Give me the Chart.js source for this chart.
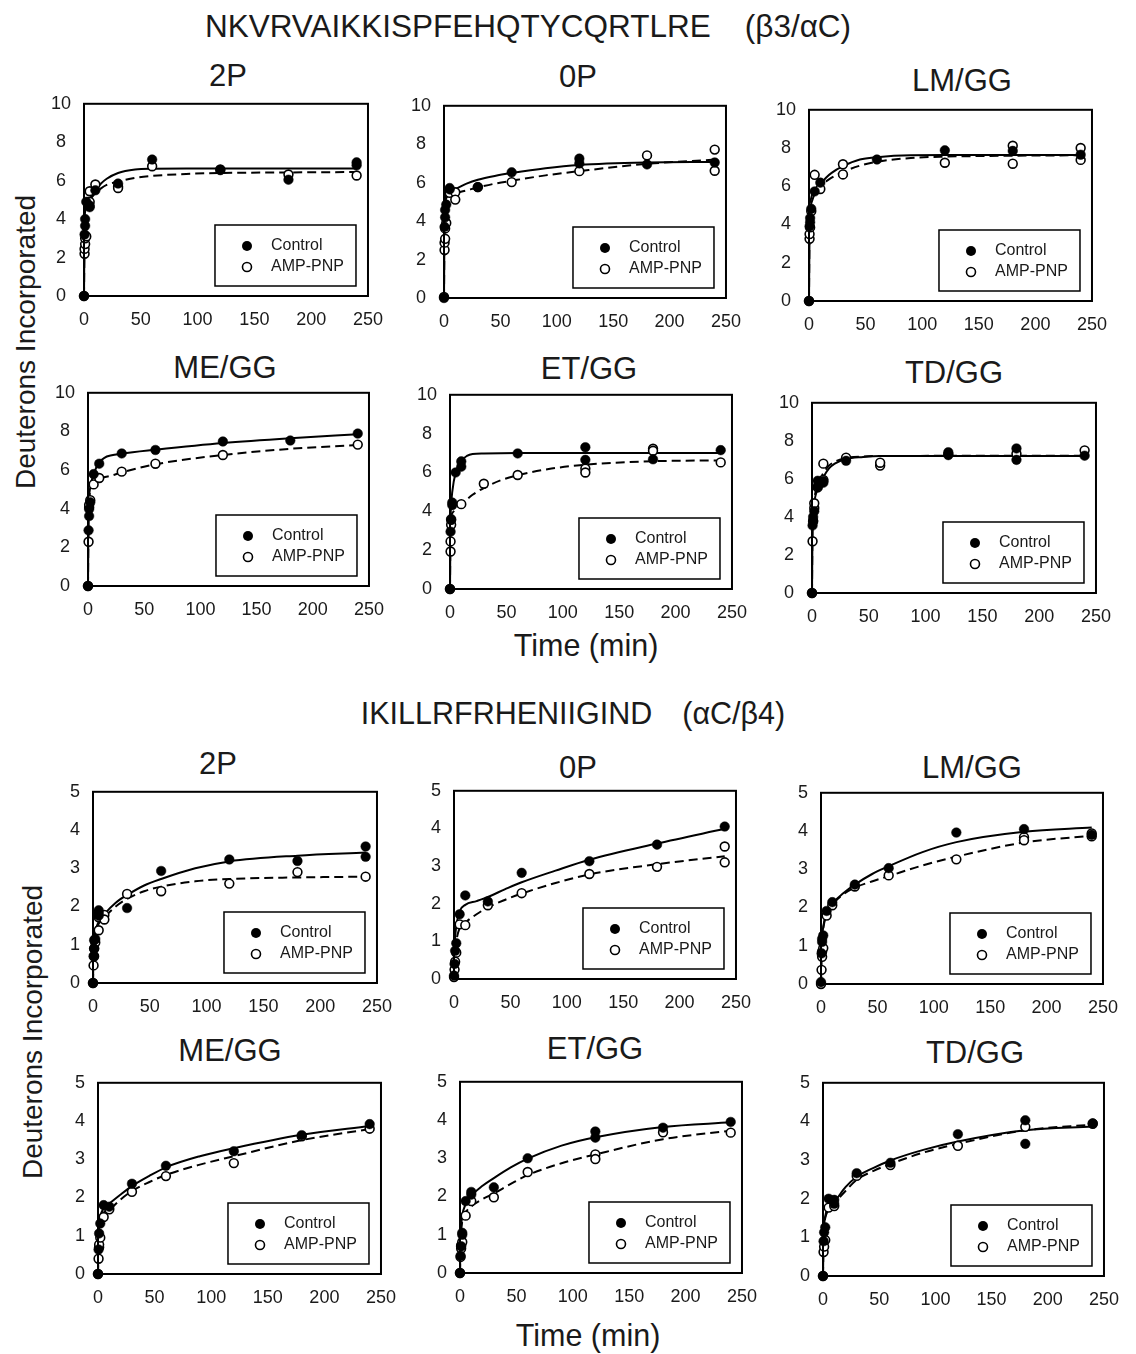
<!DOCTYPE html>
<html><head><meta charset="utf-8">
<script src="https://cdn.jsdelivr.net/npm/chart.js@4.4.1/dist/chart.umd.min.js"></script>
<style>
body{margin:0;background:#fff;}
#wrap{position:relative;width:1136px;height:1354px;overflow:hidden;font-family:"Liberation Sans",Arial,sans-serif;color:#1a1a1a;}
.lbl{position:absolute;white-space:nowrap;transform:translate(-50%,-50%);line-height:1;}
.rot{transform:translate(-50%,-50%) rotate(-90deg);}
canvas{position:absolute;}
</style></head><body><div id="wrap"></div>
<script>
// ---------------- DATA ----------------
const ticksX = [0, 50, 100, 150, 200, 250];
const ticksYTop = [0, 2, 4, 6, 8, 10];
const ticksYBottom = [0, 1, 2, 3, 4, 5];
const panelTitles = ['2P', '0P', 'LM/GG', 'ME/GG', 'ET/GG', 'TD/GG'];
const seriesNames = ['Control', 'AMP-PNP'];
const headingTop = ['NKVRVAIKKISPFEHQTYCQRTLRE', '(\u03b23/\u03b1C)'];
const headingBottom = ['IKILLRFRHENIIGIND', '(\u03b1C/\u03b24)'];
const yTitle = 'Deuterons Incorporated';
const xTitle = 'Time (min)';

// top group (β3/αC): [time, deuterons]
const t2P_ctrl = [[0,0],[0.5,3.2],[1,3.65],[1,4.0],[2,4.9],[5,4.62],[5,4.7],[10,5.5],[30,5.85],[60,7.1],[120,6.55],[180,6.05],[240,6.95],[240,6.8]];
const t2P_amp  = [[0,0],[0.5,2.2],[0.5,2.45],[1,2.7],[1,3.0],[2,3.1],[5,5.45],[5,4.9],[10,5.8],[30,5.7],[30,5.62],[60,6.75],[120,6.58],[180,6.32],[240,6.27]];
const t2P_fitC = [[0,0],[0.5,3.5],[1,4.5],[2,4.85],[5,5.05],[10,5.5],[15,5.85],[20,6.1],[30,6.4],[45,6.58],[60,6.62],[90,6.63],[120,6.63],[240,6.63]];
const t2P_fitA = [[0,0],[0.5,3.3],[1,4.3],[2,4.75],[5,5.0],[10,5.35],[15,5.6],[20,5.78],[30,5.95],[45,6.15],[60,6.25],[90,6.35],[120,6.4],[180,6.43],[240,6.45]];

const t0P_ctrl = [[0,0],[0.5,3.7],[1,4.2],[1,4.58],[2,4.86],[5,5.72],[5,5.65],[30,5.77],[60,6.54],[120,7.25],[120,7.0],[180,6.95],[240,7.05]];
const t0P_amp  = [[0,0.05],[0.5,2.5],[0.5,2.88],[1,3.08],[1,3.62],[2,3.9],[5,5.47],[10,5.5],[10,5.12],[30,5.77],[60,6.03],[120,6.6],[180,7.42],[240,7.72],[240,6.62]];
const t0P_fitC = [[0,0],[0.5,4.2],[1,5.0],[2,5.45],[5,5.6],[10,5.68],[20,5.95],[30,6.15],[45,6.35],[60,6.5],[90,6.75],[120,6.92],[180,7.05],[240,7.08]];
const t0P_fitA = [[0,0],[0.5,4.0],[1,4.8],[2,5.2],[5,5.35],[10,5.45],[20,5.6],[30,5.75],[45,5.95],[60,6.1],[90,6.38],[120,6.6],[180,6.98],[240,7.2]];

const tLM_ctrl = [[0,0],[0.5,3.9],[1,4.12],[1,4.34],[2,4.82],[5,5.73],[10,6.19],[60,7.4],[120,7.88],[180,7.85],[240,7.65]];
const tLM_amp  = [[0,0],[0.5,3.25],[0.5,3.5],[1,3.85],[2,4.7],[5,6.6],[10,5.86],[30,7.15],[30,6.62],[120,7.23],[180,8.12],[180,7.18],[240,8.0],[240,7.38]];
const tLM_fitC = [[0,0],[0.5,3.8],[1,4.8],[2,5.1],[5,5.6],[10,6.1],[15,6.45],[20,6.7],[30,7.05],[45,7.4],[60,7.52],[90,7.62],[120,7.63],[240,7.63]];
const tLM_fitA = [[0,0],[0.5,4.2],[1,5.0],[2,5.4],[5,5.8],[10,6.05],[15,6.25],[20,6.45],[30,6.75],[45,7.08],[60,7.28],[90,7.48],[120,7.55],[180,7.6],[240,7.62]];

const tME_ctrl = [[0,0],[0.5,2.88],[1,3.62],[1,3.98],[2,4.33],[5,5.79],[10,6.33],[30,6.86],[60,7.04],[120,7.48],[180,7.53],[240,7.89]];
const tME_amp  = [[0,0],[0.5,2.29],[1,4.08],[1,4.2],[2,4.44],[5,5.26],[10,5.59],[30,5.92],[60,6.33],[120,6.78],[240,7.32]];
const tME_fitC = [[0,0],[0.5,3.8],[1,4.6],[2,5.1],[5,5.8],[10,6.4],[15,6.65],[20,6.75],[30,6.85],[60,7.05],[120,7.4],[180,7.65],[240,7.85]];
const tME_fitA = [[0,0],[0.5,3.8],[1,4.5],[2,4.9],[5,5.35],[10,5.55],[20,5.7],[30,5.88],[60,6.3],[120,6.78],[180,7.1],[240,7.3]];

const tET_ctrl = [[0,0],[0.5,2.95],[1,3.6],[2,4.32],[2,4.45],[5,6.0],[10,6.57],[10,6.3],[60,6.98],[120,7.3],[120,6.65],[180,6.68],[240,7.15]];
const tET_amp  = [[0,0],[0.5,1.93],[0.5,2.45],[1,3.31],[1,3.56],[10,4.37],[30,5.42],[60,5.87],[120,6.2],[120,6.0],[180,7.22],[180,7.12],[240,6.52]];
const tET_fitC = [[0,0],[0.5,3.5],[1,4.3],[2,5.0],[5,6.0],[10,6.6],[15,6.85],[20,6.95],[30,6.98],[60,7.0],[240,7.0]];
const tET_fitA = [[0,0],[0.5,3.6],[1,3.8],[2,3.9],[5,4.1],[10,4.35],[20,4.85],[30,5.2],[45,5.6],[60,5.86],[90,6.2],[120,6.4],[180,6.58],[240,6.62]];

const tTD_ctrl = [[0,0],[0.5,3.55],[1,3.75],[1,4.0],[2,4.3],[5,5.9],[5,5.6],[10,5.88],[10,5.8],[30,6.95],[120,7.4],[120,7.25],[180,7.6],[180,7.0],[240,7.22]];
const tTD_amp  = [[0,0],[0.5,2.72],[1,3.8],[2,4.47],[2,4.72],[5,5.55],[10,6.8],[10,5.95],[30,7.12],[60,6.7],[60,6.85],[120,7.3],[180,7.32],[240,7.5]];
const tTD_fitC = [[0,0],[0.5,3.6],[1,4.3],[2,4.8],[5,5.5],[10,6.1],[15,6.55],[20,6.8],[30,7.05],[45,7.15],[60,7.2],[240,7.2]];
const tTD_fitA = [[0,0],[0.5,4.0],[1,4.6],[2,5.0],[5,5.7],[10,6.3],[15,6.7],[20,6.9],[30,7.1],[45,7.18],[60,7.2],[240,7.22]];

// bottom group (αC/β4)
const b2P_ctrl = [[0,0],[0.5,0.7],[1,0.9],[1,1.12],[2,1.15],[5,1.9],[5,1.83],[5,1.76],[30,1.96],[60,2.93],[120,3.23],[180,3.19],[240,3.57],[240,3.3]];
const b2P_amp  = [[0,0],[0.5,0.46],[1,0.7],[1,0.9],[2,1.06],[5,1.38],[5,1.72],[10,1.78],[10,1.66],[30,2.33],[60,2.4],[120,2.6],[180,2.9],[240,2.78]];
const b2P_fitC = [[0,0],[0.5,0.9],[1,1.15],[2,1.35],[5,1.6],[10,1.8],[20,2.1],[30,2.3],[45,2.55],[60,2.72],[90,3.0],[120,3.18],[180,3.33],[240,3.41]];
const b2P_fitA = [[0,0],[0.5,0.9],[1,1.1],[2,1.3],[5,1.55],[10,1.72],[20,2.0],[30,2.2],[45,2.4],[60,2.52],[90,2.66],[120,2.72],[180,2.76],[240,2.78]];

const b0P_ctrl = [[0,0.09],[0.5,0.4],[1,0.75],[2,0.95],[5,1.72],[10,2.22],[30,2.06],[60,2.82],[120,3.13],[180,3.57],[240,4.05]];
const b0P_amp  = [[0,0.05],[0.5,0.25],[1,0.46],[2,0.7],[5,1.45],[10,1.43],[30,1.96],[60,2.28],[120,2.79],[180,2.98],[240,3.52],[240,3.1]];
const b0P_fitC = [[0,0],[0.5,0.8],[1,1.1],[2,1.4],[5,1.8],[10,1.97],[20,2.07],[30,2.18],[45,2.38],[60,2.57],[90,2.88],[120,3.17],[180,3.6],[240,3.99]];
const b0P_fitA = [[0,0],[0.5,0.5],[1,0.75],[2,1.0],[5,1.35],[10,1.5],[20,1.72],[30,1.9],[45,2.1],[60,2.27],[90,2.55],[120,2.78],[180,3.05],[240,3.26]];

const bLM_ctrl = [[0,0.05],[0.5,0.8],[1,1.1],[1,1.18],[2,1.27],[5,1.91],[10,2.14],[30,2.6],[60,3.03],[120,3.96],[180,4.05],[240,3.9]];
const bLM_amp  = [[0,0],[0.5,0.37],[1,0.71],[1,0.85],[2,0.94],[5,1.79],[10,2.06],[30,2.55],[60,2.84],[120,3.26],[180,3.84],[180,3.76],[240,3.86],[240,3.94]];
const bLM_fitC = [[0,0],[0.5,0.9],[1,1.2],[2,1.5],[5,1.85],[10,2.1],[20,2.38],[30,2.6],[45,2.87],[60,3.08],[90,3.45],[120,3.71],[180,3.98],[240,4.09]];
const bLM_fitA = [[0,0],[0.5,0.85],[1,1.15],[2,1.45],[5,1.82],[10,2.07],[20,2.35],[30,2.52],[45,2.68],[60,2.82],[90,3.1],[120,3.33],[180,3.7],[240,3.88]];

const bME_ctrl = [[0,0],[0.5,0.64],[1,1.06],[2,1.32],[5,1.8],[10,1.76],[30,2.36],[60,2.83],[120,3.21],[180,3.63],[240,3.92]];
const bME_amp  = [[0,0],[0.5,0.4],[1,0.7],[1,0.77],[2,0.95],[5,1.49],[10,1.69],[30,2.15],[60,2.56],[120,2.9],[180,3.6],[240,3.8]];
const bME_fitC = [[0,0],[0.5,1.0],[1,1.3],[2,1.5],[5,1.72],[10,1.84],[20,2.08],[30,2.3],[45,2.56],[60,2.79],[90,3.08],[120,3.29],[180,3.64],[240,3.87]];
const bME_fitA = [[0,0],[0.5,0.9],[1,1.2],[2,1.4],[5,1.6],[10,1.68],[20,1.95],[30,2.17],[45,2.4],[60,2.59],[90,2.86],[120,3.08],[180,3.5],[240,3.79]];

const bET_ctrl = [[0,0],[0.5,0.45],[1,0.7],[2,1.0],[2,1.05],[5,1.88],[10,2.12],[10,2.05],[30,2.24],[60,3.0],[120,3.7],[120,3.54],[180,3.8],[240,3.95]];
const bET_amp  = [[0,0],[0.5,0.42],[1,0.64],[1,0.72],[2,0.81],[5,1.5],[10,1.88],[30,1.98],[60,2.64],[120,3.1],[120,2.98],[180,3.68],[240,3.67]];
const bET_fitC = [[0,0],[0.5,0.9],[1,1.2],[2,1.5],[5,1.8],[10,2.02],[20,2.28],[30,2.48],[45,2.76],[60,2.99],[90,3.33],[120,3.55],[180,3.82],[240,3.94]];
const bET_fitA = [[0,0],[0.5,0.8],[1,1.1],[2,1.35],[5,1.58],[10,1.74],[20,1.93],[30,2.08],[45,2.33],[60,2.56],[90,2.87],[120,3.1],[180,3.5],[240,3.72]];

const bTD_ctrl = [[0,0],[0.5,0.9],[1,1.13],[2,1.26],[5,2.0],[10,1.97],[10,1.87],[30,2.66],[60,2.93],[120,3.67],[180,4.03],[180,3.42],[240,3.95]];
const bTD_amp  = [[0,0],[0.5,0.62],[1,0.76],[2,0.93],[5,1.77],[10,1.81],[30,2.59],[60,2.87],[120,3.37],[180,3.86],[240,3.94]];
const bTD_fitC = [[0,0],[0.5,1.0],[1,1.3],[2,1.55],[5,1.8],[10,1.92],[20,2.3],[30,2.57],[45,2.8],[60,2.99],[90,3.27],[120,3.48],[180,3.77],[240,3.87]];
const bTD_fitA = [[0,0],[0.5,1.0],[1,1.3],[2,1.5],[5,1.72],[10,1.88],[20,2.2],[30,2.49],[45,2.72],[60,2.9],[90,3.2],[120,3.42],[180,3.77],[240,3.92]];

// ---------------- LAYOUT ----------------
const FONT = '"Liberation Sans", Arial, sans-serif';
const TXT = '#1a1a1a';
// plot boxes [left, top, right, bottom] and title centres
const layoutPanels = [
  {box:[84,94,374,296],   title:[228,75]},
  {box:[444,96,732,298],  title:[578,76]},
  {box:[809,100,1098,301],title:[962,80]},
  {box:[88,383,375,586],  title:[225,367]},
  {box:[450,385,738,589], title:[589,368]},
  {box:[812,393,1102,593],title:[954,372]},
  {box:[93,782,383,983],  title:[218,763]},
  {box:[454,781,742,979], title:[578,767]},
  {box:[821,783,1109,984],title:[972,767]},
  {box:[98,1073,387,1274],title:[230,1050]},
  {box:[460,1072,748,1273],title:[595,1048]},
  {box:[823,1073,1110,1276],title:[975,1052]}
];
const panelData = [
  [t2P_ctrl,t2P_amp,t2P_fitC,t2P_fitA],[t0P_ctrl,t0P_amp,t0P_fitC,t0P_fitA],[tLM_ctrl,tLM_amp,tLM_fitC,tLM_fitA],
  [tME_ctrl,tME_amp,tME_fitC,tME_fitA],[tET_ctrl,tET_amp,tET_fitC,tET_fitA],[tTD_ctrl,tTD_amp,tTD_fitC,tTD_fitA],
  [b2P_ctrl,b2P_amp,b2P_fitC,b2P_fitA],[b0P_ctrl,b0P_amp,b0P_fitC,b0P_fitA],[bLM_ctrl,bLM_amp,bLM_fitC,bLM_fitA],
  [bME_ctrl,bME_amp,bME_fitC,bME_fitA],[bET_ctrl,bET_amp,bET_fitC,bET_fitA],[bTD_ctrl,bTD_amp,bTD_fitC,bTD_fitA]
];

const wrap = document.getElementById('wrap');
function addLabel(html, x, y, size, cls) {
  const d = document.createElement('div');
  d.className = 'lbl' + (cls ? ' ' + cls : '');
  d.style.left = x + 'px'; d.style.top = y + 'px'; d.style.fontSize = size + 'px';
  d.innerHTML = html;
  wrap.appendChild(d);
}
addLabel(headingTop[0] + '<span style="margin-left:34px">' + headingTop[1] + '</span>', 528, 27, 31.5);
addLabel(headingBottom[0] + '<span style="margin-left:30px">' + headingBottom[1] + '</span>', 573, 713, 30.5);
addLabel(yTitle, 26, 342, 28, 'rot');
addLabel(yTitle, 33, 1032, 28, 'rot');
addLabel(xTitle, 586, 645, 30.5);
addLabel(xTitle, 588, 1335, 30.5);

const framePlugin = {
  id: 'frameLegend',
  afterDatasetsDraw(chart) {
    const {ctx, chartArea: a} = chart;
    ctx.save();
    ctx.strokeStyle = '#000'; ctx.lineWidth = 2;
    ctx.strokeRect(a.left, a.top, a.right - a.left, a.bottom - a.top);
    // legend box
    const w = 141, h = 61;
    const lx = a.right - 12 - w, ly = a.bottom - 10 - h;
    ctx.fillStyle = '#fff';
    ctx.fillRect(lx, ly, w, h);
    ctx.lineWidth = 1.5;
    ctx.strokeRect(lx, ly, w, h);
    ctx.font = '16px ' + FONT;
    ctx.fillStyle = TXT; ctx.textBaseline = 'middle'; ctx.textAlign = 'left';
    ctx.fillText(seriesNames[0], lx + 56, ly + 21);
    ctx.fillText(seriesNames[1], lx + 56, ly + 42);
    ctx.beginPath(); ctx.arc(lx + 32, ly + 21, 5, 0, Math.PI * 2);
    ctx.fillStyle = '#000'; ctx.fill();
    ctx.beginPath(); ctx.arc(lx + 32, ly + 42, 4.5, 0, Math.PI * 2);
    ctx.fillStyle = '#fff'; ctx.fill(); ctx.lineWidth = 1.6; ctx.strokeStyle = '#000'; ctx.stroke();
    ctx.restore();
  }
};

const PADL = 60, PADT = 14, PADR = 22, PADB = 36;
layoutPanels.forEach((p, i) => {
  const [L, T, R, B] = p.box;
  const top = i < 6;
  const yTicks = top ? ticksYTop : ticksYBottom;
  const [ctrl, amp, fitC, fitA] = panelData[i];
  addLabel(panelTitles[i % 6], p.title[0], p.title[1], 31);
  const c = document.createElement('canvas');
  const W = (R - L) + PADL + PADR, H = (B - T) + PADT + PADB;
  c.width = W; c.height = H;
  c.style.width = W + 'px'; c.style.height = H + 'px';
  c.style.left = (L - PADL) + 'px'; c.style.top = (T - PADT) + 'px';
  wrap.appendChild(c);
  new Chart(c, {
    type: 'scatter',
    data: { datasets: [
      { data: ctrl, pointRadius: 4.8, pointBackgroundColor: '#000', pointBorderColor: '#000', pointBorderWidth: 0.5, showLine: false, clip: false },
      { data: amp, pointRadius: 4.4, pointBackgroundColor: '#fff', pointBorderColor: '#000', pointBorderWidth: 1.6, showLine: false, clip: false },
      { data: fitC, showLine: true, pointRadius: 0, borderColor: '#000', borderWidth: 2, cubicInterpolationMode: 'monotone', fill: false },
      { data: fitA, showLine: true, pointRadius: 0, borderColor: '#000', borderWidth: 2, borderDash: [9, 5], cubicInterpolationMode: 'monotone', fill: false }
    ]},
    options: {
      responsive: false, animation: false, devicePixelRatio: 1,
      layout: { padding: { left: 0, top: PADT, right: PADR, bottom: 0 } },
      plugins: { legend: { display: false }, tooltip: { enabled: false }, title: { display: false } },
      scales: {
        x: {
          type: 'linear', min: 0, max: 250,
          afterBuildTicks: s => { s.ticks = ticksX.map(v => ({ value: v })); },
          afterFit: s => { s.height = PADB; },
          grid: { display: false, drawTicks: false, tickLength: 0 },
          border: { display: false },
          ticks: { font: { size: 18, family: FONT }, color: TXT, padding: 13, maxRotation: 0, autoSkip: false }
        },
        y: {
          type: 'linear', min: yTicks[0], max: yTicks[yTicks.length - 1],
          afterBuildTicks: s => { s.ticks = yTicks.map(v => ({ value: v })); },
          afterFit: s => { s.width = PADL; },
          grid: { display: false, drawTicks: false, tickLength: 0 },
          border: { display: false },
          ticks: { font: { size: 18, family: FONT }, color: TXT, padding: 13, crossAlign: 'center', autoSkip: false }
        }
      }
    },
    plugins: [framePlugin]
  });
});
</script></body></html>
